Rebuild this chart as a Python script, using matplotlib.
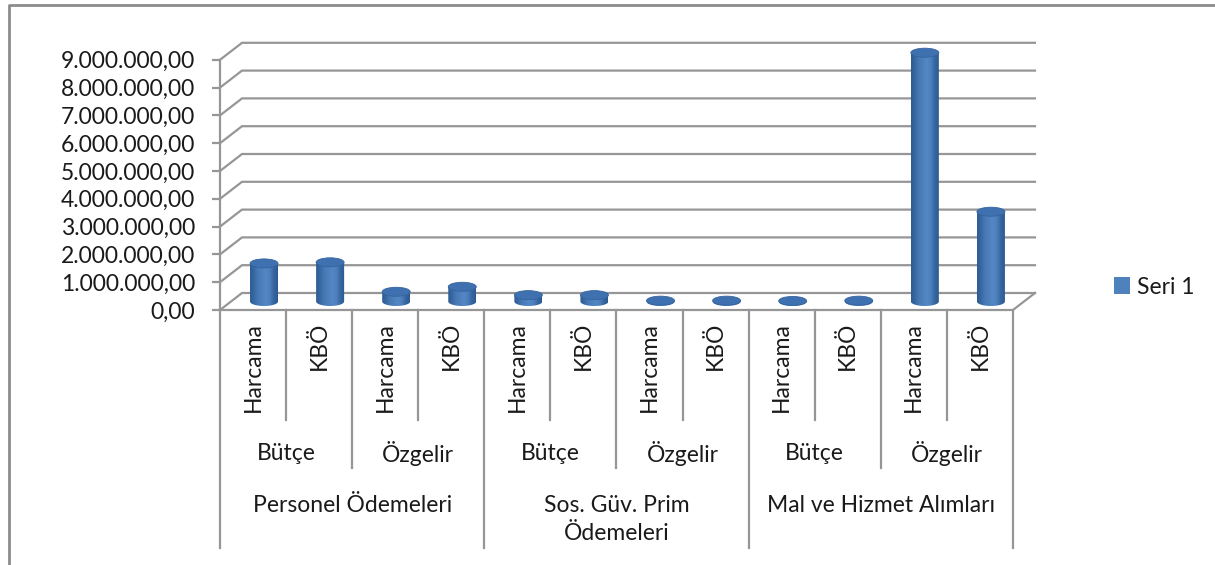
import numpy as np
import matplotlib.pyplot as plt
from matplotlib.patches import Ellipse, PathPatch, Rectangle
from matplotlib.path import Path
from matplotlib.lines import Line2D
from matplotlib.transforms import blended_transform_factory
from matplotlib.ticker import FuncFormatter
from matplotlib.colors import LinearSegmentedColormap

plt.rcParams['font.family'] = ['Lato', 'DejaVu Sans']

# data
leaf_labels = ['Harcama', 'KBÖ'] * 6
mid_labels = ['Bütçe', 'Özgelir'] * 3
top_labels = ['Personel Ödemeleri', 'Sos. Güv. Prim\nÖdemeleri', 'Mal ve Hizmet Alımları']
values = [1370000, 1410000, 350000, 530000, 230000, 230000,
          30000, 30000, 20000, 30000, 8950000, 3230000]
yticks = np.arange(0, 9000001, 1000000)
series_name = 'Seri 1'

W, H = 1215, 565
TXT = '#1a1a1a'
GRID = '#969696'
FS = 16.5

fig = plt.figure(figsize=(W / 100, H / 100), dpi=100)
ax = fig.add_axes([220 / W, (H - 310) / H, 820 / W, 270 / H])
px_x = 66.08          # pixels per category
px_y = 27.8 / 1e6     # pixels per unit value
n = len(values)

# 3d depth offset (back wall relative to front)
dx = 22 / px_x
dy = 17 / px_y

for s in ['top', 'right', 'bottom']:
    ax.spines[s].set_visible(False)
ax.spines['left'].set_bounds(0, yticks[-1])
ax.spines['left'].set_color(GRID)
ax.spines['left'].set_linewidth(1.6)
ax.set_xticks([])
ax.set_yticks(yticks)
fmt = lambda v, p: f'{v:,.2f}'.replace(',', 'X').replace('.', ',').replace('X', '.')
ax.yaxis.set_major_formatter(FuncFormatter(fmt))
ax.tick_params(axis='y', direction='out', length=6, width=1.6, color=GRID,
               pad=12, labelsize=FS, labelcolor=TXT)

# back wall grid + left side wall diagonals
for v in yticks:
    ax.plot([0, dx, n + dx], [v, v + dy, v + dy], color=GRID, lw=1.6,
            clip_on=False, zorder=1, solid_joinstyle='miter')
# floor front + right edge
ax.plot([0, n, n + dx], [0, 0, dy], color=GRID, lw=1.6, clip_on=False, zorder=1)

# cylinders
w = 28 / px_x
eh = 9 / px_y
grad = np.array([0.0, 0.25, 0.5, 0.62, 0.75, 0.6, 0.2, 0.0])
grad = np.interp(np.linspace(0, 7, 64), np.arange(8), grad)[None, :]
cmap = LinearSegmentedColormap.from_list('cyl', ['#2c5a92', '#6197d6'])
t = np.linspace(np.pi, 2 * np.pi, 30)
for i, v in enumerate(values):
    xc = i + 0.5 + dx / 2
    base = dy / 2
    top = base + v
    x0, x1 = xc - w / 2, xc + w / 2
    verts = [(x0, top), (x0, base)]
    verts += [(xc + w / 2 * np.cos(a), base + eh / 2 * np.sin(a)) for a in t]
    verts += [(x1, top), (x0, top)]
    body = PathPatch(Path(verts), facecolor='none', edgecolor='none')
    ax.add_patch(body)
    im = ax.imshow(grad, cmap=cmap, aspect='auto', vmin=0, vmax=1,
                   extent=(x0, x1, base - eh / 2, top), zorder=3, interpolation='bilinear')
    im.set_clip_path(body)
    ax.add_patch(Ellipse((xc, top), w, eh, facecolor='#3f71b0',
                         edgecolor='#35649e', lw=0.6, zorder=4))
ax.set_xlim(0, 820 / px_x)
ax.set_ylim(0, 270 / px_y)

# category table below the floor
blend = blended_transform_factory(ax.transData, fig.transFigure)
fy = lambda py: 1 - py / H
for k in range(n + 1):
    bottom = 548 if k % 4 == 0 else (468 if k % 2 == 0 else 420)
    ax.plot([k, k], [fy(310), fy(bottom)], color=GRID, lw=1.6,
            transform=blend, clip_on=False)
for i, lab in enumerate(leaf_labels):
    ax.text(i + 0.5, fy(322), lab, rotation=90, ha='center', va='top',
            fontsize=FS, color=TXT, transform=blend)
for j, lab in enumerate(mid_labels):
    ax.text(2 * j + 1, fy(453), lab, ha='center', va='center',
            fontsize=FS, color=TXT, transform=blend)
for j, lab in enumerate(top_labels):
    ax.text(4 * j + 2, fy(495), lab, ha='center', va='top', linespacing=1.4,
            fontsize=FS, color=TXT, transform=blend)

# outer chart frame (left and top edges visible)
fig.add_artist(Line2D([9 / W, 9 / W, 1], [0, fy(5), fy(5)], color='#8c8c8c', lw=2))

handle = Rectangle((0, 0), 1, 1, facecolor='#4f81bd')
fig.legend([handle], [series_name], loc='center left',
           bbox_to_anchor=(1093 / W, fy(287)), frameon=False, fontsize=FS,
           handlelength=0.7, handleheight=0.7, handletextpad=0.3, labelcolor=TXT)

fig.savefig('out.png', dpi=100)
